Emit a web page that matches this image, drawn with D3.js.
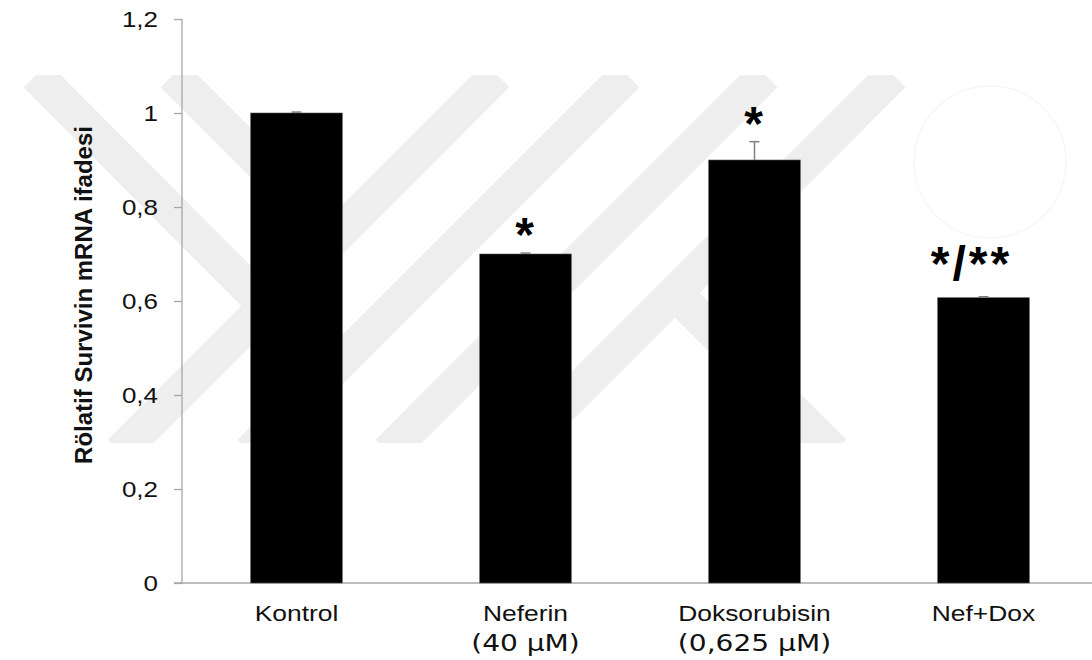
<!DOCTYPE html>
<html>
<head>
<meta charset="utf-8">
<script src="https://cdn.jsdelivr.net/npm/d3@7"></script>
<style>
body{margin:0;background:#fff;}
svg{display:block;font-family:"Liberation Sans",Arial,sans-serif;}
</style>
</head>
<body>
<div id="chart"></div>
<script>
// data
var groups = ['Kontrol','Neferin','Doksorubisin','Nef+Dox'];
var doses = ['','(40 μM)','(0,625 μM)',''];
var means = [1.0, 0.70, 0.90, 0.607];
var errs = [0.002, 0.002, 0.039, 0.002];
var sig = ['','*','*','*/**'];
var yTicks = [0,0.2,0.4,0.6,0.8,1,1.2];

var W = 1092, H = 660,
	m = {t:19,r:-6,b:77,l:182},
	w = W - m.l - m.r,
	h = H - m.t - m.b;

//the original figure's text is drawn a bit wider than normal
function widen(sel,k){
	sel.each(function(){
		var l = this.getComputedTextLength();
		if(l>0) d3.select(this).attr('textLength',l*k).attr('lengthAdjust','spacingAndGlyphs');
	});
}

var svg = d3.select('#chart').append('svg')
	.attr('width',W).attr('height',H);

//faint watermark behind the plot
var wm = [
	[[36,75],[266,306]],
	[[173,75],[335,237]],
	[[497,75],[120,452]],
	[[627,75],[250,452]],
	[[765,75],[388,452]],
	[[893,75],[516,452]],
	[[675,293],[834,452]]
];
svg.append('clipPath').attr('id','wmclip')
	.append('rect').attr('x',0).attr('y',75).attr('width',W).attr('height',368);
svg.append('g').attr('clip-path','url(#wmclip)')
	.selectAll('line').data(wm).enter().append('line')
	.attr('x1',function(d){return d[0][0]}).attr('y1',function(d){return d[0][1]})
	.attr('x2',function(d){return d[1][0]}).attr('y2',function(d){return d[1][1]})
	.style('stroke','#eeeeee').style('stroke-width',35);
svg.append('circle').attr('cx',990).attr('cy',162).attr('r',76)
	.style('fill','none').style('stroke','#f6f6f6').style('stroke-width',1.5);

var plot = svg.append('g')
	.attr('transform','translate('+m.l+','+m.t+')');

var x = d3.scaleBand().domain(groups).range([0,w]).paddingInner(0.6).paddingOuter(0.3);
var y = d3.scaleLinear().domain([0,1.2]).range([h,0]);

var loc = d3.formatLocale({decimal:',',thousands:'.',grouping:[3],currency:['','']});
var fmt = loc.format('.1~f');

//y axis
var yAxis = plot.append('g')
	.call(d3.axisLeft(y).tickValues(yTicks).tickFormat(fmt).tickSize(8).tickPadding(16));
yAxis.select('.domain').remove();
yAxis.selectAll('line').style('stroke','#a6a6a6').style('stroke-width',1.3);
yAxis.selectAll('text').style('font-size','22px').style('fill','#111')
	.style('font-family','"Liberation Sans",Arial,sans-serif')
	.call(widen,1.18);
plot.append('line').attr('x1',0).attr('x2',0).attr('y1',0).attr('y2',h)
	.style('stroke','#a6a6a6').style('stroke-width',1.3);
plot.append('line').attr('x1',-8).attr('x2',w).attr('y1',h).attr('y2',h)
	.style('stroke','#a6a6a6').style('stroke-width',1.3);

//bars
plot.selectAll('.bar').data(groups).enter().append('rect')
	.attr('class','bar')
	.attr('x',function(d){return x(d)})
	.attr('width',x.bandwidth())
	.attr('y',function(d,i){return y(means[i])})
	.attr('height',function(d,i){return h - y(means[i])})
	.style('fill','#000').style('stroke','#555').style('stroke-width',0.6);

//error bars (upper only)
var eb = plot.selectAll('.err').data(groups).enter().append('g').attr('class','err')
	.attr('transform',function(d){return 'translate('+(x(d)+x.bandwidth()/2)+',0)'});
eb.append('line')
	.attr('y1',function(d,i){return y(means[i])})
	.attr('y2',function(d,i){return y(means[i]+errs[i])})
	.style('stroke','#7f7f7f').style('stroke-width',1.5);
eb.append('line')
	.attr('x1',-5).attr('x2',5)
	.attr('y1',function(d,i){return y(means[i]+errs[i])})
	.attr('y2',function(d,i){return y(means[i]+errs[i])})
	.style('stroke','#7f7f7f').style('stroke-width',1.5);

//significance marks
plot.selectAll('.sig').data(groups).enter().append('text')
	.attr('class','sig')
	.attr('x',function(d,i){return x(d)+x.bandwidth()/2 + (sig[i].length>1?-12:-1)})
	.attr('y',function(d,i){return y(means[i]+errs[i]) + (sig[i].length>1?-17:-2)})
	.attr('text-anchor','middle')
	.style('font-size','48px').style('font-weight','bold')
	.style('letter-spacing',function(d,i){return sig[i].length>1?'3px':'0px'})
	.text(function(d,i){return sig[i]});

//category labels
plot.selectAll('.cat').data(groups).enter().append('text')
	.attr('class','cat')
	.attr('text-anchor','middle')
	.attr('x',function(d){return x(d)+x.bandwidth()/2})
	.attr('y',h+38)
	.style('font-size','22px').style('fill','#111')
	.text(function(d){return d})
	.call(widen,1.2);
plot.selectAll('.dose').data(groups).enter().append('text')
	.attr('class','dose')
	.attr('text-anchor','middle')
	.attr('x',function(d){return x(d)+x.bandwidth()/2})
	.attr('y',h+68)
	.style('font-size','23px').style('fill','#111')
	.style('font-family','"DejaVu Sans",sans-serif')
	.text(function(d,i){return doses[i]})
	.call(widen,1.22);

//y title
svg.append('text')
	.attr('transform','translate(92,'+(m.t+h/2-6)+') rotate(-90)')
	.attr('text-anchor','middle')
	.style('font-size','24px').style('font-weight','bold').style('fill','#111')
	.text('Rölatif Survivin mRNA ifadesi');
</script>
</body>
</html>
